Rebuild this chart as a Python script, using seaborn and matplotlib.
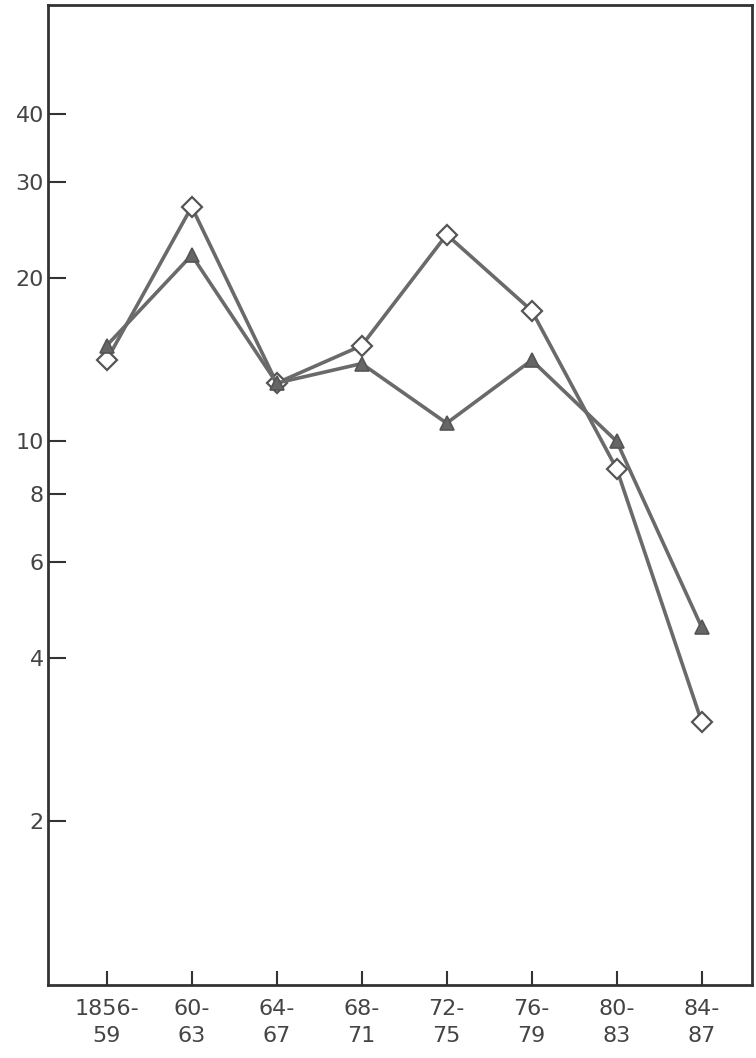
import matplotlib
matplotlib.use("Agg")
import matplotlib.pyplot as plt
import seaborn as sns
import pandas as pd
import numpy as np

periods = ["1856-\n59", "60-\n63", "64-\n67", "68-\n71", "72-\n75", "76-\n79", "80-\n83", "84-\n87"]
series_diamond = [14.1, 27.0, 12.8, 15.0, 24.0, 17.4, 8.9, 3.05]
series_triangle = [15.0, 22.0, 12.8, 13.9, 10.8, 14.1, 10.0, 4.55]
ytick_vals = [2, 4, 6, 8, 10, 20, 30, 40]

sns.set_theme(style="white")
plt.rcParams['font.family'] = ['DejaVu Sans']

fig = plt.figure(figsize=(7.56, 10.58), dpi=100)
ax = fig.add_axes([0.0635, 0.069, 0.931, 0.926])

x = np.arange(len(periods))
df = pd.DataFrame({"x": np.concatenate([x, x]),
                   "y": series_diamond + series_triangle,
                   "s": ["A"] * len(x) + ["B"] * len(x)})

line_col = "#6a6a6a"
sns.lineplot(data=df[df.s == "A"], x="x", y="y", ax=ax, color=line_col, lw=2.6,
             marker="D", markersize=10, markerfacecolor="white",
             markeredgecolor="#555555", markeredgewidth=1.6, zorder=3)
sns.lineplot(data=df[df.s == "B"], x="x", y="y", ax=ax, color=line_col, lw=2.6,
             marker="^", markersize=10, markerfacecolor="#666666",
             markeredgecolor="#555555", markeredgewidth=1.2, zorder=3)

ax.set_yscale("log")
ax.set_ylim(1.0, 63.4)
ax.set_xlim(-0.69, 7.59)
ax.set_yticks(ytick_vals)
ax.set_yticklabels([str(v) for v in ytick_vals])
ax.yaxis.set_minor_locator(matplotlib.ticker.NullLocator())
ax.set_xticks(x)
ax.set_xticklabels(periods)
ax.set_xlabel("")
ax.set_ylabel("")

for sp in ax.spines.values():
    sp.set_color("#333333")
    sp.set_linewidth(2)
ax.tick_params(axis="y", direction="in", length=13, width=1.5, color="#333333",
               labelsize=16, labelcolor="#444444", pad=3, left=True)
ax.tick_params(axis="x", direction="in", length=10, width=1.5, color="#333333",
               labelsize=16, labelcolor="#444444", pad=10, bottom=True)
for lab in ax.get_xticklabels():
    lab.set_linespacing(1.45)
if ax.get_legend():
    ax.get_legend().remove()

fig.savefig("out.png", dpi=100)
